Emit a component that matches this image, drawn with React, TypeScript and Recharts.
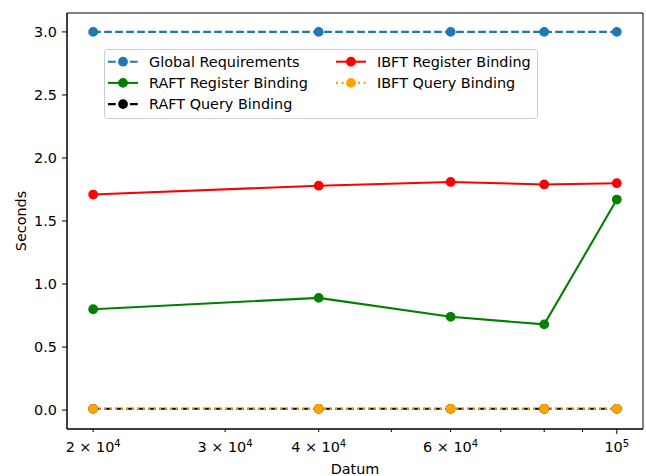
import React from "react";
import { LineChart, Line, XAxis, YAxis, Legend, ReferenceArea } from "recharts";

const datum = [20000, 40000, 60000, 80000, 100000];
const globalRequirements = [3.0, 3.0, 3.0, 3.0, 3.0];
const raftRegister = [0.8, 0.89, 0.74, 0.68, 1.67];
const raftQuery = [0.01, 0.01, 0.01, 0.01, 0.01];
const ibftRegister = [1.71, 1.78, 1.81, 1.79, 1.8];
const ibftQuery = [0.01, 0.01, 0.01, 0.01, 0.01];

const xTicks = [20000, 30000, 40000, 50000, 60000, 70000, 80000, 90000, 100000];
const xTickLabels: Record<number, [string, string]> = {
  20000: ["2 × 10", "4"],
  30000: ["3 × 10", "4"],
  40000: ["4 × 10", "4"],
  60000: ["6 × 10", "4"],
  100000: ["10", "5"],
};
const yTicks = [0, 0.5, 1.0, 1.5, 2.0, 2.5, 3.0];

const series = [
  { key: "global", name: "Global Requirements", color: "#1f77b4", dash: "7.7 3.3" },
  { key: "raftReg", name: "RAFT Register Binding", color: "#008000", dash: undefined },
  { key: "raftQuery", name: "RAFT Query Binding", color: "#000000", dash: "7.7 3.3" },
  { key: "ibftReg", name: "IBFT Register Binding", color: "#ff0000", dash: undefined },
  { key: "ibftQuery", name: "IBFT Query Binding", color: "#ffa500", dash: "2.1 3.4" },
];

const data = datum.map((x, i) => ({
  x,
  global: globalRequirements[i],
  raftReg: raftRegister[i],
  raftQuery: raftQuery[i],
  ibftReg: ibftRegister[i],
  ibftQuery: ibftQuery[i],
}));

// matplotlib-style 5% padding on the log axis
const pad = Math.pow(datum[datum.length - 1] / datum[0], 0.05);
const xDomain = [datum[0] / pad, datum[datum.length - 1] * pad];
const yDomain = [-0.15, 3.15];

const FONT = "DejaVu Sans, sans-serif";
const FS = 14.4;

function XTick(props: any) {
  const { x, y, payload } = props;
  const v = payload.value;
  const label = xTickLabels[v];
  const len = v === 100000 ? 5 : 3;
  return (
    <g>
      <line x1={x} x2={x} y1={y} y2={y + len} stroke="#000" strokeWidth={1} />
      {label && (
        <text x={x} y={y + 23} textAnchor="middle" fontSize={FS} fontFamily={FONT} fill="#000">
          <tspan>{label[0]}</tspan>
          <tspan dy={-5} fontSize={10}>{label[1]}</tspan>
        </text>
      )}
    </g>
  );
}

function LegendBox() {
  const rows = [
    [0, 0], [0, 1], [0, 2], [1, 0], [1, 1],
  ];
  return (
    <svg width={434} height={70} style={{ display: "block" }}>
      <rect x={0.5} y={0.5} width={433} height={69} rx={3} fill="#fff" fillOpacity={0.8} stroke="#cccccc" />
      {series.map((s, i) => {
        const [col, row] = rows[i];
        const x0 = col === 0 ? 4 : 232;
        const cy = 12.7 + row * 21.2;
        return (
          <g key={s.key}>
            <line x1={x0} x2={x0 + 30} y1={cy} y2={cy} stroke={s.color} strokeWidth={2.08} strokeDasharray={s.dash} />
            <circle cx={x0 + 15} cy={cy} r={4.2} fill={s.color} stroke={s.color} strokeWidth={1.4} />
            <text x={x0 + 41} y={cy} dy="0.35em" fontSize={FS} fontFamily={FONT} fill="#000">
              {s.name}
            </text>
          </g>
        );
      })}
    </svg>
  );
}

export default function App() {
  return (
    <div style={{ position: "absolute", left: 0, top: 0, width: 646, height: 476, background: "#fff" }}>
      <LineChart width={646} height={476} data={data} margin={{ top: 13, right: 3, bottom: 0, left: 0 }}>
        <XAxis
          dataKey="x"
          type="number"
          scale="log"
          domain={xDomain}
          allowDataOverflow
          ticks={xTicks}
          interval={0}
          height={47}
          tickLine={false}
          tickSize={0}
          tickMargin={0}
          axisLine={{ stroke: "#000" }}
          tick={<XTick />}
          label={{ value: "Datum", position: "insideBottom", offset: 2, fontSize: FS, fontFamily: FONT, fill: "#000" }}
        />
        <YAxis
          type="number"
          domain={yDomain}
          allowDataOverflow
          ticks={yTicks}
          interval={0}
          width={67}
          tickSize={5}
          tickMargin={5}
          tickFormatter={(v: number) => v.toFixed(1)}
          tick={{ fontSize: FS, fontFamily: FONT, fill: "#000" }}
          tickLine={{ stroke: "#000" }}
          axisLine={{ stroke: "#000" }}
          label={{
            value: "Seconds",
            angle: -90,
            position: "insideLeft",
            offset: 21,
            style: { textAnchor: "middle", fontSize: FS, fontFamily: FONT, fill: "#000" },
          }}
        />
        <ReferenceArea
          x1={xDomain[0]}
          x2={xDomain[1]}
          y1={yDomain[0]}
          y2={yDomain[1]}
          fill="none"
          stroke="#000"
          strokeWidth={1}
          ifOverflow="visible"
        />
        {series.map((s) => (
          <Line
            key={s.key}
            type="linear"
            dataKey={s.key}
            name={s.name}
            stroke={s.color}
            strokeWidth={2.08}
            strokeDasharray={s.dash}
            dot={{ r: 4.2, fill: s.color, stroke: s.color, strokeWidth: 1.4, strokeDasharray: "" }}
            activeDot={false}
            isAnimationActive={false}
          />
        ))}
        <Legend
          layout="vertical"
          align="center"
          verticalAlign="middle"
          wrapperStyle={{ left: 104, top: 49, width: 434, height: 70 }}
          content={() => <LegendBox />}
        />
      </LineChart>
    </div>
  );
}
